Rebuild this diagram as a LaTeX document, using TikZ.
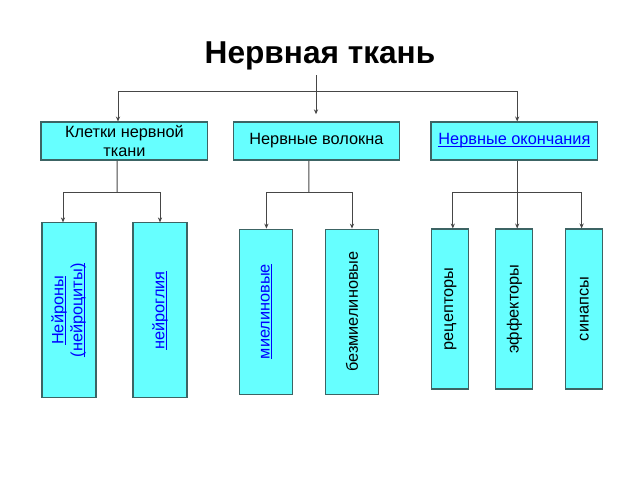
\documentclass[tikz,border=0pt]{standalone}
\usepackage{fontspec}
\setmainfont{Liberation Sans}
\usetikzlibrary{arrows.meta}
\definecolor{boxfill}{RGB}{102,255,255}
\definecolor{boxline}{RGB}{60,100,100}
\definecolor{linecol}{RGB}{70,70,70}
\newsavebox{\lnkbox}
\newcommand{\lnk}[1]{\sbox{\lnkbox}{\color{blue}#1}{\color{blue}%
	\rlap{\rule[-1.6pt]{\wd\lnkbox}{0.5pt}}}\usebox{\lnkbox}}
\tikzset{
    every node/.style={font=\fontsize{11.6}{13.5}\selectfont}
}
\tikzset{
    box/.style={rectangle, fill=boxfill, draw=boxline, line width=0.8pt,
    	align=center, inner sep=0pt}
}
\tikzset{
    conn/.style={draw=linecol, line width=0.7pt,
    	-{Stealth[length=3.5pt, width=3pt]}}
}

\begin{document}
\begin{tikzpicture}
  \useasboundingbox (0,0) rectangle (16cm,-12cm);
  \node (1) [font=\fontsize{22.5}{26}\selectfont\bfseries] at (8cm, -1.4cm) {Нервная ткань};
  \node (2) [box, minimum width=4.17cm, minimum height=0.95cm] at (3.11cm, -3.525cm)
  	{Клетки нервной\\ткани};
  \node (3) [box, minimum width=4.15cm, minimum height=0.95cm] at (7.91cm, -3.525cm)
  	{Нервные волокна};
  \node (4) [box, minimum width=4.17cm, minimum height=0.95cm] at (12.86cm, -3.525cm)
  	{\lnk{Нервные окончания}};
  \node (5) [box, minimum width=1.35cm, minimum height=4.375cm] at (1.725cm, -7.76cm)
  	{\rotatebox{90}{\begin{tabular}{@{}c@{}}\lnk{Нейроны}\\\lnk{(нейроциты)}\end{tabular}}};
  \node (6) [box, minimum width=1.35cm, minimum height=4.375cm] at (4cm, -7.76cm)
  	{\rotatebox{90}{\lnk{нейроглия}}};
  \node (7) [box, minimum width=1.325cm, minimum height=4.125cm] at (6.66cm, -7.79cm)
  	{\rotatebox{90}{\lnk{миелиновые}}};
  \node (8) [box, minimum width=1.325cm, minimum height=4.125cm] at (8.8cm, -7.79cm)
  	{\rotatebox{90}{безмиелиновые}};
  \node (9) [box, minimum width=0.925cm, minimum height=4cm] at (11.26cm, -7.725cm)
  	{\rotatebox{90}{рецепторы}};
  \node (10) [box, minimum width=0.925cm, minimum height=4cm] at (12.86cm, -7.725cm)
  	{\rotatebox{90}{эффекторы}};
  \node (11) [box, minimum width=0.925cm, minimum height=4cm] at (14.61cm, -7.725cm)
  	{\rotatebox{90}{синапсы}};

  \coordinate (b1) at (7.9cm, -2.275cm);
  \coordinate (b2) at (2.93cm, -4.8cm);
  \coordinate (b3) at (7.72cm, -4.8cm);
  \coordinate (b4) at (12.93cm, -4.8cm);

  \draw[conn, shorten >=0.18cm] (b1 |- 1.south) -- (b1 |- 3.north);
  \draw[conn] (b1) -| ([xshift=-0.16cm]2.north);
  \draw[conn] (b1) -| ([xshift=0.07cm]4.north);
  \draw[draw=linecol, line width=0.7pt] ([xshift=-0.18cm]2.south) -- (b2);
  \draw[conn] (b2) -| ([xshift=-0.15cm]5.north);
  \draw[conn] (b2) -| (6.north);
  \draw[draw=linecol, line width=0.7pt] ([xshift=-0.19cm]3.south) -- (b3);
  \draw[conn] (b3) -| (7.north);
  \draw[conn] (b3) -| (8.north);
  \draw[conn] ([xshift=0.07cm]4.south) -- ([xshift=0.07cm]10.north);
  \draw[conn] (b4) -| ([xshift=0.06cm]9.north);
  \draw[conn] (b4) -| ([xshift=-0.07cm]11.north);
\end{tikzpicture}
\end{document}
